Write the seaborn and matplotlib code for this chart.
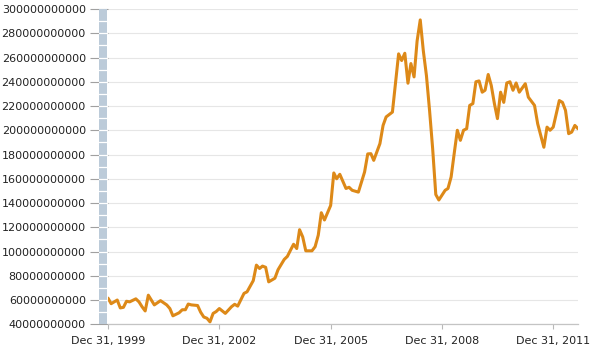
import matplotlib
matplotlib.use("Agg")
import matplotlib.pyplot as plt
import matplotlib.dates as mdates
from matplotlib.ticker import FuncFormatter, MultipleLocator
from matplotlib.patches import Rectangle
import seaborn as sns
import pandas as pd

# month-end observations, values in billions
months = [
    "1999-12", "2000-01", "2000-03", "2000-04", "2000-05", "2000-06", "2000-07", "2000-09",
    "2000-10", "2000-11", "2000-12", "2001-01", "2001-03", "2001-05", "2001-07", "2001-08",
    "2001-09", "2001-11", "2001-12", "2002-01", "2002-02", "2002-03", "2002-05", "2002-06",
    "2002-07", "2002-08", "2002-09", "2002-10", "2002-11", "2002-12", "2003-02", "2003-04",
    "2003-05", "2003-06", "2003-08", "2003-09", "2003-11", "2003-12", "2004-01", "2004-02",
    "2004-03", "2004-04", "2004-06", "2004-07", "2004-09", "2004-10", "2004-11", "2004-12",
    "2005-01", "2005-02", "2005-03", "2005-04", "2005-06", "2005-07", "2005-08", "2005-09",
    "2005-10", "2005-12", "2006-01", "2006-02", "2006-03", "2006-05", "2006-06", "2006-07",
    "2006-09", "2006-11", "2006-12", "2007-01", "2007-02", "2007-04", "2007-05", "2007-06",
    "2007-08", "2007-10", "2007-11", "2007-12", "2008-01", "2008-02", "2008-03", "2008-04",
    "2008-05", "2008-06", "2008-07", "2008-08", "2008-09", "2008-10", "2008-11", "2009-01",
    "2009-02", "2009-03", "2009-04", "2009-05", "2009-06", "2009-07", "2009-08", "2009-09",
    "2009-10", "2009-11", "2009-12", "2010-01", "2010-02", "2010-03", "2010-04", "2010-05",
    "2010-06", "2010-07", "2010-08", "2010-09", "2010-10", "2010-11", "2010-12", "2011-01",
    "2011-03", "2011-04", "2011-06", "2011-07", "2011-09", "2011-10", "2011-11", "2011-12",
    "2012-02", "2012-03", "2012-04", "2012-05", "2012-06", "2012-07", "2012-08",
]
values_bn = [
    61.6, 57, 60, 53.5, 54, 59, 58.5, 61,
    58.5, 54.5, 51, 64, 56, 59.5, 56, 53,
    47, 49.5, 52, 52, 56.7, 56, 55.5, 50,
    46, 45, 42, 49, 50.5, 53, 49, 54.5,
    56.5, 55, 65.5, 66.8, 76, 88.8, 86, 88,
    87, 75, 78, 85, 93.5, 96, 101, 106,
    102.5, 118, 112, 100.6, 100.6, 104, 113.5, 132,
    126, 138, 164.8, 160, 163.7, 152, 153, 150.5,
    149, 165.6, 180.5, 180.7, 175.2, 189, 204, 211,
    215, 263, 257.5, 263.5, 238.8, 255, 244, 273.6,
    291, 265.7, 245, 216, 185, 147, 142.5, 150.5,
    152, 161.5, 180.7, 200, 191.7, 200, 201.3, 220.5,
    222, 240, 240.7, 231.4, 233, 246, 237, 222,
    209.6, 231.4, 223, 239, 240, 233, 239, 231.4,
    238.4, 227.3, 220.5, 205.4, 186, 202.6, 200, 202.6,
    224.5, 223, 216.4, 197.2, 198.5, 204, 201.3,
]
tick_dates = ["1999-12-31", "2002-12-31", "2005-12-31", "2008-12-31", "2011-12-31"]

df = pd.DataFrame({
    "date": pd.to_datetime(months) + pd.offsets.MonthEnd(0),
    "value": [v * 1e9 for v in values_bn],
})

sns.set_style("white")
plt.rcParams["font.family"] = "DejaVu Sans"

fig = plt.figure(figsize=(5.95, 3.51), dpi=100)
ax = fig.add_axes([108 / 595, 26.7 / 351, 470 / 595, 315.3 / 351])

sns.lineplot(data=df, x="date", y="value", ax=ax, color="#dd8918", linewidth=2.2)

ax.set_ylim(40e9, 300e9)
ax.set_xlim(df["date"].iloc[0], df["date"].iloc[-1])
ax.yaxis.set_major_locator(MultipleLocator(20e9))
ax.yaxis.set_major_formatter(FuncFormatter(lambda v, p: f"{v:.0f}"))
ax.set_xticks(pd.to_datetime(tick_dates))
ax.xaxis.set_major_formatter(mdates.DateFormatter("%b %d, %Y"))
ax.set_xlabel("")
ax.set_ylabel("")

ax.grid(axis="y", color="#e6e6e6", linewidth=0.8)
ax.grid(axis="x", visible=False)
for side in ["top", "right", "left"]:
    ax.spines[side].set_visible(False)
ax.spines["bottom"].set_color("#c4c4c4")
ax.spines["bottom"].set_linewidth(0.9)

ax.tick_params(axis="y", length=13, width=0.8, color="#a0a0a0", pad=3,
               labelsize=8, labelcolor="#222222", left=True)
ax.tick_params(axis="x", length=3.6, width=0.8, color="#b8b8b8", pad=5,
               labelsize=8, labelcolor="#222222", bottom=True)

# striped band next to the value axis
ax.add_patch(Rectangle((-9 / 470, 0), 8 / 470, 1, transform=ax.transAxes,
                       facecolor="#bccbd9", edgecolor="none", clip_on=False, zorder=3))
ytf = ax.get_yaxis_transform()
for v in range(50, 300, 10):
    ax.plot([-9 / 470, -1 / 470], [v * 1e9, v * 1e9], transform=ytf, color="white",
            linewidth=0.9, clip_on=False, zorder=4)

fig.savefig("out.png", dpi=100)
